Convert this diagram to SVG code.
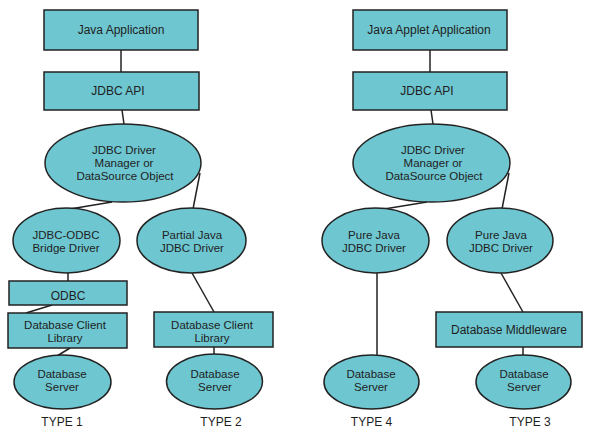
<svg xmlns="http://www.w3.org/2000/svg" width="591" height="440" viewBox="0 0 591 440">
<style>
.n{fill:#6EC6D0;stroke:#222;stroke-width:1.5}
.t{font-family:"Liberation Sans",Arial,sans-serif;font-size:12px;fill:#1e1e1e;text-anchor:middle}
.m{font-size:11.5px}
.c line{stroke:#222;stroke-width:1.5}
</style>
<rect width="591" height="440" fill="#fff"/>
<g class="c" id="connectors">
<line x1="121" y1="50" x2="121" y2="72"/>
<line x1="122" y1="110" x2="124" y2="124"/>
<line x1="112" y1="202" x2="64" y2="210"/>
<line x1="200" y1="173" x2="193" y2="209"/>
<line x1="68" y1="273" x2="68" y2="281"/>
<line x1="52" y1="305" x2="26" y2="313"/>
<line x1="70" y1="348" x2="57" y2="356"/>
<line x1="192" y1="273" x2="214" y2="312"/>
<line x1="214" y1="347" x2="214" y2="355"/>
<line x1="430" y1="50" x2="430" y2="72"/>
<line x1="431" y1="110" x2="433" y2="124"/>
<line x1="427" y1="202" x2="378" y2="210"/>
<line x1="509" y1="173" x2="502" y2="209"/>
<line x1="377" y1="273" x2="377" y2="355"/>
<line x1="501" y1="273" x2="523" y2="312"/>
<line x1="523" y1="347" x2="523" y2="355"/>
</g>
<g id="java-app"><rect class="n" x="44" y="10" width="154" height="40"/><text class="t" x="121" y="34">Java Application</text></g>
<g id="jdbc-api-1"><rect class="n" x="44" y="72" width="155" height="38"/><text class="t" x="118" y="95">JDBC API</text></g>
<g id="manager-1"><ellipse class="n" cx="123" cy="163" rx="78" ry="39"/><text class="t m" y="154"><tspan x="124">JDBC Driver</tspan><tspan x="124" dy="13">Manager or</tspan><tspan x="125" dy="13">DataSource Object</tspan></text></g>
<g id="bridge"><ellipse class="n" cx="66.5" cy="240.5" rx="53.5" ry="32.5"/><text class="t m" y="239"><tspan x="66">JDBC-ODBC</tspan><tspan x="66" dy="13">Bridge Driver</tspan></text></g>
<g id="odbc"><rect class="n" x="9" y="281" width="118" height="24"/><text class="t" x="68" y="300">ODBC</text></g>
<g id="client-lib-1"><rect class="n" x="8" y="313" width="119" height="35"/><text class="t m" y="329"><tspan x="65">Database Client</tspan><tspan x="65" dy="13">Library</tspan></text></g>
<g id="server-1"><ellipse class="n" cx="62.5" cy="382" rx="48.5" ry="27"/><text class="t m" y="378"><tspan x="62">Database</tspan><tspan x="62" dy="13">Server</tspan></text></g>
<text class="t" x="62" y="426">TYPE 1</text>
<g id="partial"><ellipse class="n" cx="191.5" cy="240.5" rx="54.5" ry="32.5"/><text class="t m" y="239"><tspan x="192">Partial Java</tspan><tspan x="192" dy="13">JDBC Driver</tspan></text></g>
<g id="client-lib-2"><rect class="n" x="154" y="312" width="119" height="35"/><text class="t m" y="329"><tspan x="212">Database Client</tspan><tspan x="212" dy="13">Library</tspan></text></g>
<g id="server-2"><ellipse class="n" cx="214.5" cy="381.5" rx="48" ry="27.5"/><text class="t m" y="378"><tspan x="215">Database</tspan><tspan x="215" dy="13">Server</tspan></text></g>
<text class="t" x="221" y="426">TYPE 2</text>
<g id="applet-app"><rect class="n" x="353" y="10" width="154" height="40"/><text class="t" x="429" y="34">Java Applet Application</text></g>
<g id="jdbc-api-2"><rect class="n" x="353" y="72" width="154" height="38"/><text class="t" x="427" y="95">JDBC API</text></g>
<g id="manager-2"><ellipse class="n" cx="431.5" cy="163" rx="78.5" ry="39"/><text class="t m" y="154"><tspan x="433">JDBC Driver</tspan><tspan x="433" dy="13">Manager or</tspan><tspan x="434" dy="13">DataSource Object</tspan></text></g>
<g id="pure-4"><ellipse class="n" cx="375.5" cy="240.5" rx="53.5" ry="32.5"/><text class="t m" y="239"><tspan x="374">Pure Java</tspan><tspan x="374" dy="13">JDBC Driver</tspan></text></g>
<g id="server-4"><ellipse class="n" cx="371.5" cy="382" rx="47.5" ry="27"/><text class="t m" y="378"><tspan x="371">Database</tspan><tspan x="371" dy="13">Server</tspan></text></g>
<text class="t" x="371.5" y="426">TYPE 4</text>
<g id="pure-3"><ellipse class="n" cx="500" cy="240.5" rx="53" ry="32.5"/><text class="t m" y="239"><tspan x="501">Pure Java</tspan><tspan x="501" dy="13">JDBC Driver</tspan></text></g>
<g id="middleware"><rect class="n" x="436" y="312" width="146" height="35"/><text class="t" x="509" y="334">Database Middleware</text></g>
<g id="server-3"><ellipse class="n" cx="523.5" cy="382" rx="47.5" ry="27"/><text class="t m" y="378"><tspan x="524">Database</tspan><tspan x="524" dy="13">Server</tspan></text></g>
<text class="t" x="530" y="426">TYPE 3</text>
</svg>
